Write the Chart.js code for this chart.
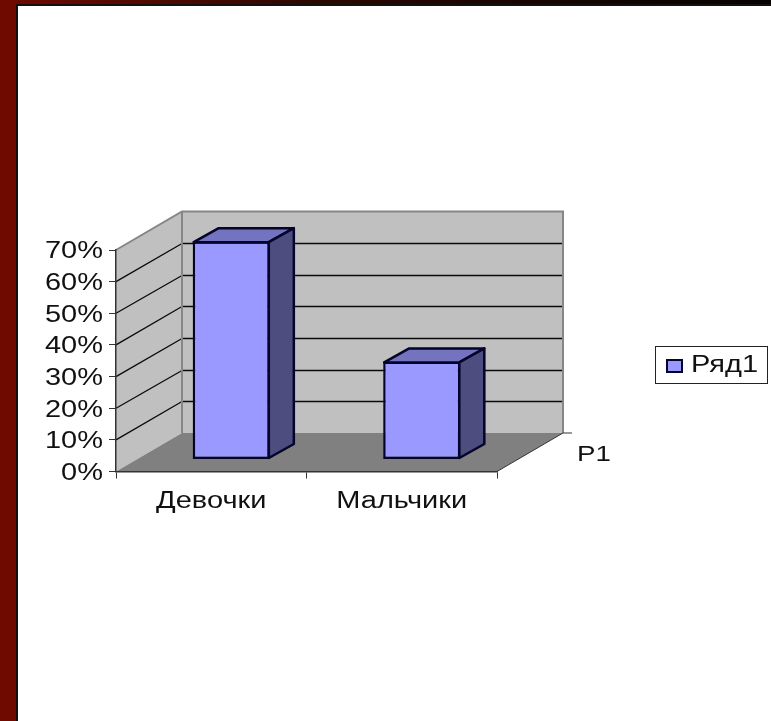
<!DOCTYPE html>
<html>
<head>
<meta charset="utf-8">
<title>Девочки и мальчики</title>
<script src="https://cdn.jsdelivr.net/npm/chart.js@4"></script>
<style>
  html, body { margin: 0; padding: 0; background: #fff; overflow: hidden; }
  #left { position: absolute; left: 0; top: 0; width: 16px; height: 721px; background: #6e0a00; border-right: 2px solid #111; }
  #topbar { position: absolute; left: 16px; top: 0; width: 755px; height: 4px; background: linear-gradient(to right, #6e0a00, #2a0800 40%, #050200); border-bottom: 2px solid #111; }
  #myChart { position: absolute; left: 0; top: 0; }
</style>
</head>
<body>
<div id="left"></div>
<div id="topbar"></div>
<canvas id="myChart" width="771" height="721"></canvas>
<script>
var categories = ["Девочки", "Мальчики"];
var values = [69, 31];
var seriesName = "Ряд1";
var depthLabel = "Р1";

var labelFont = "Liberation Sans, Arial, sans-serif";

// how far the back wall sits behind the front of the axes, and where the bars stand in between
var depth = { x: 66, y: -38.5 };
var barShift = { x: 20, y: -12 };
var barDepth = { x: 25, y: -14 };

function line(ctx, x1, y1, x2, y2) {
  ctx.beginPath();
  ctx.moveTo(x1, y1);
  ctx.lineTo(x2, y2);
  ctx.stroke();
}

function poly(ctx, pts, fill, stroke, width) {
  ctx.beginPath();
  ctx.moveTo(pts[0][0], pts[0][1]);
  for (var i = 1; i < pts.length; i++) ctx.lineTo(pts[i][0], pts[i][1]);
  ctx.closePath();
  ctx.fillStyle = fill;
  ctx.fill();
  if (stroke) {
    ctx.strokeStyle = stroke;
    ctx.lineWidth = width;
    ctx.lineJoin = "round";
    ctx.stroke();
  }
}

// the reference picture is stretched sideways, so its text is wider than any font here
function stretchText(ctx, amount) {
  var plain = ctx.fillText;
  ctx.fillText = function (text, x, y) {
    ctx.save();
    // tick labels sit a little under their ticks in the reference
    ctx.translate(x, y + (ctx.textBaseline == "middle" ? 2 : 0));
    ctx.scale(amount, 1);
    plain.call(ctx, text, 0, 0);
    ctx.restore();
  };
}

var box3d = {
  id: "box3d",
  beforeDraw: function (chart) {
    var ctx = chart.ctx;
    var a = chart.chartArea;
    var l = a.left, r = a.right, t = a.top, b = a.bottom;
    var dx = depth.x, dy = depth.y;

    ctx.save();
    // side wall, back wall, floor
    poly(ctx, [[l, t], [l + dx, t + dy], [l + dx, b + dy], [l, b]], "#c0c0c0");
    poly(ctx, [[l + dx, t + dy], [r + dx, t + dy], [r + dx, b + dy], [l + dx, b + dy]], "#c0c0c0");
    poly(ctx, [[l, b], [r, b], [r + dx, b + dy], [l + dx, b + dy]], "#808080");

    // grid lines go along the side wall then across the back
    var yScale = chart.scales.y;
    ctx.strokeStyle = "#0a0a0a";
    ctx.lineWidth = 1.3;
    yScale.ticks.forEach(function (tick) {
      if (tick.value == 0 || tick.value == yScale.max) return;
      var y = yScale.getPixelForValue(tick.value);
      var backY = Math.round(y + dy) + 0.5;
      line(ctx, l, y, l + dx, backY);
      line(ctx, l + dx, backY, r + dx, backY);
    });

    // wall edges
    ctx.strokeStyle = "#868686";
    ctx.lineWidth = 2;
    ctx.beginPath();
    ctx.moveTo(l, t);
    ctx.lineTo(l + dx, t + dy);
    ctx.lineTo(r + dx, t + dy);
    ctx.lineTo(r + dx, b + dy);
    ctx.moveTo(l + dx, t + dy);
    ctx.lineTo(l + dx, b + dy);
    ctx.stroke();

    // depth axis with its tick and label
    ctx.strokeStyle = "#333";
    ctx.lineWidth = 1;
    line(ctx, r, b, r + dx, b + dy);
    line(ctx, r + dx, b + dy, r + dx + 9, b + dy);
    ctx.fillStyle = "#111";
    ctx.font = "22px " + labelFont;
    ctx.textAlign = "left";
    ctx.textBaseline = "alphabetic";
    ctx.fillText(depthLabel, r + 80, b - 11);
    ctx.restore();
  },
  beforeDatasetsDraw: function (chart) {
    chart.ctx.save();
    chart.ctx.translate(barShift.x, barShift.y);
  },
  afterDatasetsDraw: function (chart) {
    var ctx = chart.ctx;
    var dx = barDepth.x, dy = barDepth.y;
    chart.getDatasetMeta(0).data.forEach(function (bar) {
      var x1 = bar.x - bar.width / 2 + 1, x2 = bar.x + bar.width / 2 - 1;
      var top = bar.y + 1, base = bar.base - 1;
      poly(ctx, [[x1, top], [x1 + dx, top + dy], [x2 + dx, top + dy], [x2, top]], "#7373bf", "#05052b", 2.5);
      poly(ctx, [[x2, top], [x2 + dx, top + dy], [x2 + dx, base + dy], [x2, base]], "#4d4d80", "#05052b", 2.5);
    });
    ctx.restore();
  },
  afterDraw: function (chart) {
    // legend box sits off to the right, away from the plot
    var ctx = chart.ctx;
    ctx.save();
    ctx.fillStyle = "#fff";
    ctx.strokeStyle = "#222";
    ctx.lineWidth = 1;
    ctx.fillRect(655.5, 346.5, 112, 37);
    ctx.strokeRect(655.5, 346.5, 112, 37);
    ctx.fillStyle = "#9999ff";
    ctx.strokeStyle = "#05052b";
    ctx.lineWidth = 2;
    ctx.fillRect(667, 360, 15, 12);
    ctx.strokeRect(667, 360, 15, 12);
    ctx.fillStyle = "#111";
    ctx.font = "23px " + labelFont;
    ctx.textAlign = "left";
    ctx.textBaseline = "alphabetic";
    ctx.fillText(seriesName, 691, 372);
    ctx.restore();
  },
};

var ctx = document.getElementById("myChart");
stretchText(ctx.getContext("2d"), 1.26);

var myChart = new Chart(ctx, {
  type: "bar",
  data: {
    labels: categories,
    datasets: [
      {
        label: seriesName,
        data: values,
        backgroundColor: "#9999ff",
        borderColor: "#05052b",
        borderWidth: 2.5,
        borderSkipped: false,
        barPercentage: 0.405,
        categoryPercentage: 1,
        clip: false,
      },
    ],
  },
  options: {
    responsive: false,
    animation: false,
    layout: { padding: { top: 250, right: 274, left: 0, bottom: 0 } },
    plugins: { legend: { display: false }, tooltip: { enabled: false } },
    scales: {
      x: {
        grid: { drawOnChartArea: false, color: "#333", tickLength: 7 },
        border: { color: "#333", width: 1.5 },
        ticks: {
          color: "#111",
          padding: 7,
          maxRotation: 0,
          font: { family: labelFont, size: 23 },
        },
        afterFit: function (scale) {
          scale.height = 249.5;
        },
      },
      y: {
        min: 0,
        max: 70,
        grid: { drawOnChartArea: false, color: "#333", tickLength: 7 },
        border: { color: "#333", width: 1.5 },
        ticks: {
          stepSize: 10,
          color: "#111",
          padding: 6,
          font: { family: labelFont, size: 23 },
          callback: function (value) {
            return value + "%";
          },
        },
        afterFit: function (scale) {
          scale.width = 116;
        },
      },
    },
  },
  plugins: [box3d],
});
</script>
</body>
</html>
